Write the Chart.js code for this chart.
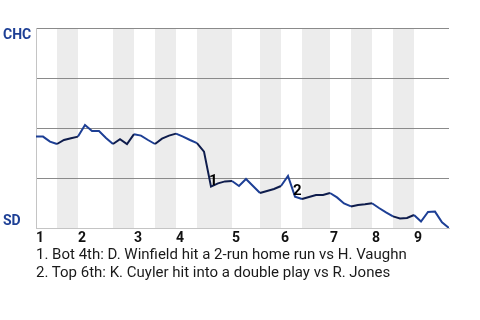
<!DOCTYPE html>
<html>
<head>
<meta charset="utf-8">
<script src="https://cdn.jsdelivr.net/npm/chart.js@4.4.1/dist/chart.umd.min.js"></script>
<style>
  html, body { margin: 0; padding: 0; background: #fff; }
  #wrap { position: relative; width: 480px; height: 320px; overflow: hidden; }
  #notes { position: absolute; left: 36px; top: 245px; font: 15px Roboto, sans-serif; line-height: 18px; color: #1a1a1a; }
</style>
</head>
<body>
<div id="wrap">
  <canvas id="wpChart" width="480" height="320"></canvas>
  <div id="notes"></div>
</div>
<script>
// CHC win probability after each plate appearance (0 = SD wins, 1 = CHC wins)
const chcWinProb = [
  0.457, 0.457, 0.432, 0.42, 0.44, 0.449, 0.457, 0.515, 0.485, 0.485,
  0.45, 0.42, 0.444, 0.42, 0.469, 0.462, 0.44, 0.42, 0.447, 0.462,
  0.472, 0.457, 0.44, 0.424, 0.382, 0.207, 0.223, 0.233, 0.235, 0.21,
  0.245, 0.21, 0.175, 0.185, 0.195, 0.21, 0.26, 0.157, 0.145, 0.155,
  0.165, 0.165, 0.175, 0.153, 0.123, 0.108, 0.115, 0.119, 0.124, 0.1,
  0.078, 0.058, 0.048, 0.05, 0.065, 0.032, 0.08, 0.082, 0.028, 0
];
const inningStarts = [0, 6, 14, 20, 28, 35, 42, 48, 54];
const inningLabels = ['1', '2', '3', '4', '5', '6', '7', '8', '9'];
// bottom half-innings (SD batting), in plate appearances
const bottomHalves = [[3, 6], [11, 14], [17, 20], [23, 28], [32, 35], [38, 42], [45, 48], [51, 54]];
const eventPlays = [25, 37];
const eventTags = ['1', '2'];
const eventNotes = [
  'Bot 4th: D. Winfield hit a 2-run home run vs H. Vaughn',
  'Top 6th: K. Cuyler hit into a double play vs R. Jones'
];
const teamTop = 'CHC';
const teamBottom = 'SD';

const BLUE = '#1d3f95';
const NAVY = '#0e1c4c';

const inBottomHalf = (a, b) => bottomHalves.some(([s, e]) => a >= s && b <= e);

const bandsPlugin = {
  id: 'bands',
  beforeDraw(chart) {
    const { ctx, chartArea, scales: { x } } = chart;
    ctx.save();
    ctx.fillStyle = '#ececec';
    bottomHalves.forEach(([s, e]) => {
      const x0 = x.getPixelForValue(s);
      const x1 = x.getPixelForValue(e);
      ctx.fillRect(x0, chartArea.top, x1 - x0, chartArea.bottom - chartArea.top);
    });
    ctx.restore();
  }
};

const labelsPlugin = {
  id: 'labels',
  afterDatasetsDraw(chart) {
    const { ctx, chartArea, scales: { x, y } } = chart;
    ctx.save();
    ctx.textAlign = 'left';
    ctx.textBaseline = 'alphabetic';
    ctx.fillStyle = BLUE;
    ctx.font = 'bold 14px Roboto, sans-serif';
    ctx.fillText(teamTop, 3, chartArea.top + 11);
    ctx.fillText(teamBottom, 3, chartArea.bottom - 3);

    ctx.fillStyle = '#000';
    ctx.font = 'bold 15px Roboto, sans-serif';
    eventPlays.forEach((p, i) => {
      const px = x.getPixelForValue(p);
      const py = y.getPixelForValue(chcWinProb[p]);
      ctx.fillText(eventTags[i], px - 2, py - 2);
    });
    ctx.restore();
  }
};

document.getElementById('notes').innerHTML = eventTags
  .map((t, i) => `<div>${t}. ${eventNotes[i]}</div>`)
  .join('');

new Chart(document.getElementById('wpChart'), {
  type: 'line',
  data: {
    datasets: [{
      data: chcWinProb.map((v, i) => ({ x: i, y: v })),
      borderColor: BLUE,
      borderWidth: 2,
      pointRadius: 0,
      tension: 0,
      fill: false,
      segment: {
        borderColor: (ctx) => inBottomHalf(ctx.p0.parsed.x, ctx.p1.parsed.x) ? NAVY : BLUE
      }
    }]
  },
  options: {
    responsive: false,
    animation: false,
    devicePixelRatio: 1,
    layout: { padding: { left: 36, right: 31, top: 28, bottom: 74 } },
    plugins: { legend: { display: false }, tooltip: { enabled: false } },
    scales: {
      x: {
        type: 'linear',
        min: 0,
        max: chcWinProb.length - 1,
        afterBuildTicks: (s) => { s.ticks = inningStarts.map((v) => ({ value: v })); },
        afterFit: (s) => { s.height = 18; },
        grid: { display: false, drawTicks: false },
        border: { display: true, color: '#c4c4c4', width: 1 },
        ticks: {
          autoSkip: false,
          maxRotation: 0,
          align: 'start',
          padding: 2,
          color: '#111',
          font: { family: 'Roboto, sans-serif', size: 14, weight: 'bold' },
          callback: (v, i) => inningLabels[i]
        }
      },
      y: {
        min: 0,
        max: 1,
        afterFit: (s) => { s.width = 0; },
        ticks: { display: false, stepSize: 0.25 },
        grid: {
          drawTicks: false,
          color: (ctx) => ctx.tick.value === 0 ? 'rgba(0,0,0,0)' : '#8a8a8a',
          lineWidth: 1
        },
        border: { display: true, color: '#c4c4c4', width: 1 }
      }
    }
  },
  plugins: [bandsPlugin, labelsPlugin]
});
</script>
</body>
</html>
